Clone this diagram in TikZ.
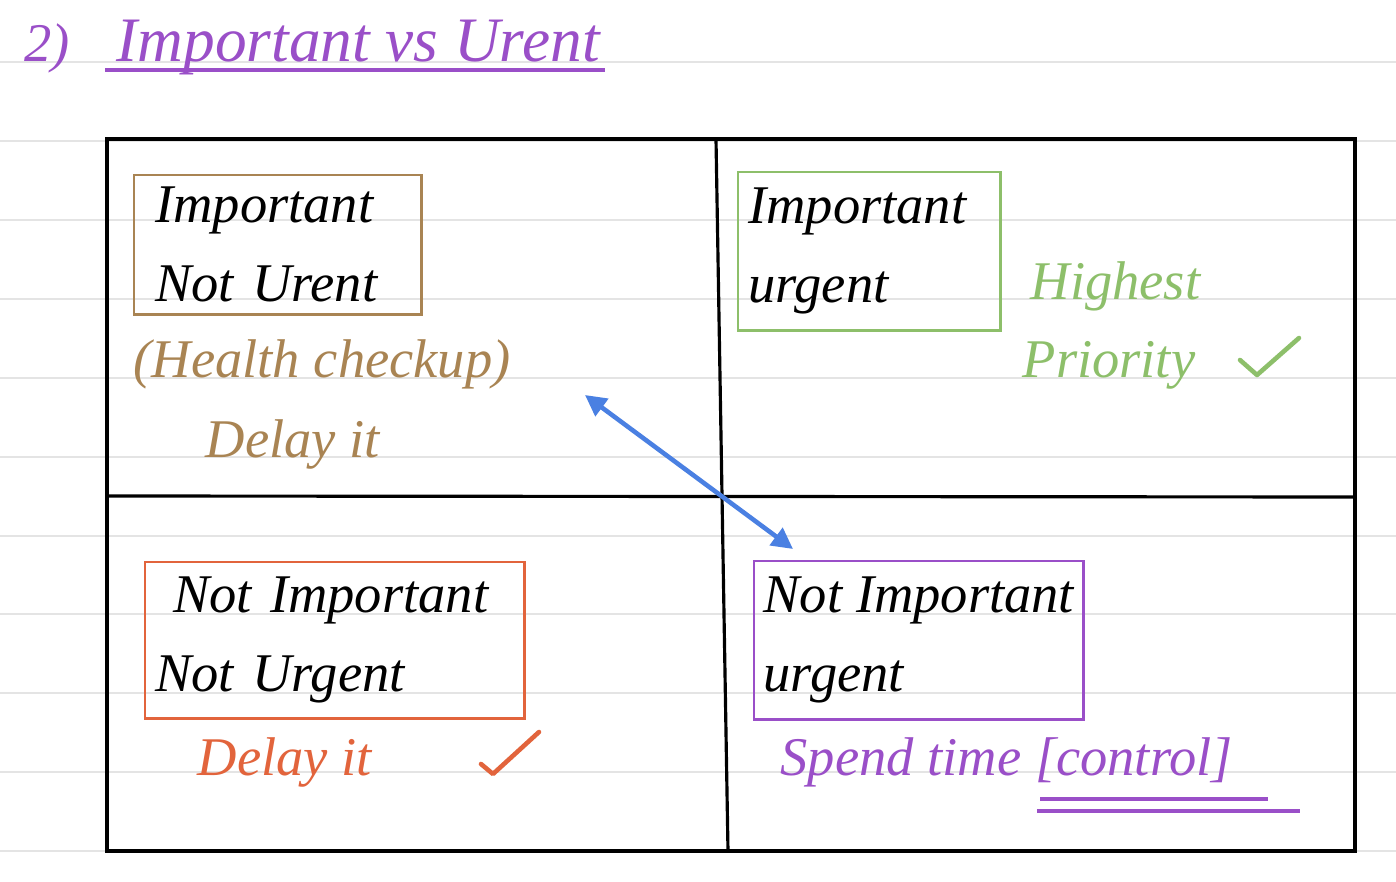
\documentclass[tikz,border=0pt]{standalone}
\usepackage{fontspec}
\setmainfont{Liberation Serif}
\usetikzlibrary{arrows.meta}
\definecolor{inkpurple}{HTML}{9A4FC8}
\definecolor{inkbrown}{HTML}{A98453}
\definecolor{inkgreen}{HTML}{8DBF6A}
\definecolor{inkorange}{HTML}{E2643C}
\definecolor{inkblue}{HTML}{4A80E2}
\definecolor{ruleline}{HTML}{E4E4E4}
\tikzset{
	quadbox/.style={draw=#1, line width=0.7pt, anchor=north west, align=left, inner xsep=0.1cm},
	note/.style={text=#1, anchor=base west, inner sep=0pt},
	tick/.style={draw=#1, line width=1.3pt, line cap=round, line join=round}
}
\begin{document}
\begin{tikzpicture}[x=0.01cm, y=-0.01cm, font=\itshape\fontsize{15.5}{22.5}\selectfont]
	\useasboundingbox (0,0) rectangle (1396,882);
	\fill[white] (0,0) rectangle (1396,882);
	% ruled paper
	\foreach \y in {62,141,220,299,378,457,536,614,693,772,851} { \draw[ruleline, line width=0.5pt] (0,\y) -- (1396,\y); }
	% title
	\node[note=inkpurple] (num) at (24,62) {2)};
	\node[note=inkpurple, font=\itshape\fontsize{18}{20}\selectfont] (title) at (116,62) {Important vs Urent};
	\draw[inkpurple, line width=1.3pt] (105,70) -- (605,70);
	% matrix frame
	\draw[line width=0.9pt] (107,139) rectangle (1355,851);
	\draw[line width=0.9pt] (716,139) -- (728,851);
	\draw[line width=0.9pt] (107,496) -- (1355,497);
	% quadrants
	\node[quadbox=inkbrown, minimum width=2.87cm, minimum height=1.39cm, text width=2.45cm, inner xsep=0.21cm] (impnot) at (133,174) {Important\\Not Urent};
	\node[quadbox=inkgreen, minimum width=2.62cm, minimum height=1.58cm, text width=2.42cm] (impurg) at (737,171) {Important\\urgent};
	\node[quadbox=inkorange, minimum width=3.79cm, minimum height=1.56cm, text width=3.59cm] (notnot) at (144,561) {\hspace{0.18cm}Not Important\\Not Urgent};
	\node[quadbox=inkpurple, minimum width=3.29cm, minimum height=1.58cm, inner xsep=0.08cm] (notimp) at (753,560) {Not Important\\urgent};
	% remarks
	\node[note=inkbrown] (health) at (133,378) {(Health checkup)};
	\node[note=inkbrown] (delayA) at (205,458) {Delay it};
	\node[note=inkgreen] (high) at (1030,300) {Highest};
	\node[note=inkgreen] (prio) at (1022,378) {Priority};
	\node[note=inkorange] (delayB) at (197,775) {Delay it};
	\node[note=inkpurple] (spend) at (780,775) {Spend time [control]};
	\draw[inkpurple, line width=1.2pt] (1040,799) -- (1268,799);
	\draw[inkpurple, line width=1.2pt] (1037,811) -- (1300,811);
	\draw[tick=inkgreen] (1240,360) -- (1257,375) -- (1299,338);
	\draw[tick=inkorange] (481,764) -- (493,774) -- (539,732);
	% swap arrow
	\coordinate (swapA) at (585,395);
	\coordinate (swapB) at (793,549);
	\draw[inkblue, line width=1.3pt, {Triangle[length=6pt, width=6pt]}-{Triangle[length=6pt, width=6pt]}] (swapA) -- (swapB);
\end{tikzpicture}
\end{document}
